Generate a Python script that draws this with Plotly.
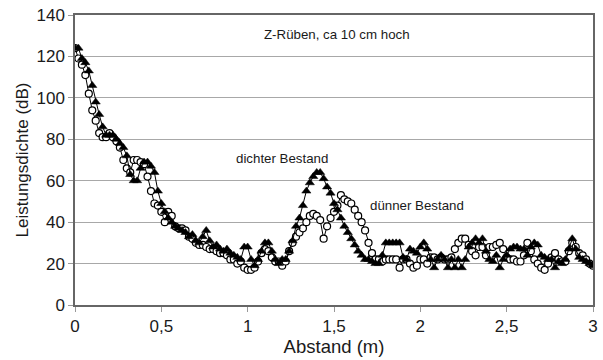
import numpy as np
import plotly.graph_objects as go

# Abstand (m), Messpunkte im Abstand von 2 cm
abstand = [round(i * 0.02, 2) for i in range(151)]

# Leistungsdichte (dB), dichter Bestand
dichter = [
    124, 124, 119, 117, 113, 106, 98, 92, 86, 82,
    82, 82, 80, 78, 76, 72, 63, 60, 60, 66,
    69, 69, 67, 64, 55, 49, 45, 42, 40, 38,
    37, 36, 35, 33, 34, 31, 30, 33, 36, 31,
    28, 29, 27, 26, 27, 25, 24, 23, 22, 28,
    28, 22, 19, 22, 26, 30, 30, 26, 22, 20,
    22, 22, 26, 31, 38, 42, 48, 55, 59, 62,
    64, 64, 61, 57, 54, 49, 46, 42, 38, 35,
    32, 29, 26, 24, 22, 22, 21, 20, 20, 24,
    30, 30, 30, 30, 30, 23, 22, 27, 26, 25,
    28, 30, 27, 22, 18, 22, 24, 22, 18, 22,
    18, 22, 18, 22, 28, 30, 32, 30, 32, 26,
    22, 21, 24, 18, 22, 24, 27, 28, 28, 27,
    27, 24, 28, 30, 29, 24, 23, 22, 22, 18,
    21, 20, 22, 27, 32, 27, 23, 22, 21, 20,
    19,
]

# Leistungsdichte (dB), dünner Bestand
duenner = [
    124, 119, 116, 111, 102, 94, 89, 83, 81, 81,
    83, 81, 79, 76, 70, 66, 64, 70, 70, 69,
    68, 62, 55, 49, 48, 45, 40, 45, 43, 38,
    37, 37, 36, 33, 32, 30, 29, 29, 28, 27,
    27, 26, 25, 25, 24, 22, 22, 20, 21, 18,
    17, 17, 18, 21, 25, 27, 26, 23, 21, 21,
    19, 21, 26, 30, 33, 35, 37, 40, 43, 44,
    43, 41, 32, 38, 42, 45, 48, 53, 51, 50,
    49, 46, 43, 40, 36, 30, 25, 22, 22, 21,
    22, 22, 22, 22, 18, 22, 22, 20, 18, 19,
    22, 22, 20, 23, 23, 22, 23, 22, 22, 23,
    27, 30, 32, 32, 29, 26, 24, 28, 28, 24,
    28, 28, 29, 30, 27, 23, 22, 22, 21, 21,
    24, 30, 26, 22, 20, 18, 17, 20, 23, 25,
    22, 21, 21, 26, 30, 28, 25, 24, 22, 20,
    19,
]

x_ticks = [0, 0.5, 1, 1.5, 2, 2.5, 3]
y_ticks = [0, 20, 40, 60, 80, 100, 120, 140]

font_family = "Liberation Sans, Arial, sans-serif"
text_col = "#1a1a1a"
note_size = 13.3

fig = go.Figure()

fig.add_trace(go.Scatter(
    x=abstand, y=duenner, mode="lines+markers", name="dünner Bestand",
    line=dict(color="black", width=1),
    marker=dict(symbol="circle", size=7, color="white",
                line=dict(color="black", width=1.2)),
))

fig.add_trace(go.Scatter(
    x=abstand, y=dichter, mode="lines+markers", name="dichter Bestand",
    line=dict(color="black", width=1),
    marker=dict(symbol="triangle-up", size=8, color="black",
                line=dict(color="black", width=0.5)),
))

fig.update_layout(
    width=603, height=360,
    margin=dict(l=75, r=5, t=15, b=55),
    paper_bgcolor="white", plot_bgcolor="white",
    showlegend=False,
    separators=",.",
    font=dict(family=font_family, color=text_col, size=17),
)

fig.update_xaxes(
    range=[0, 3], tickvals=x_ticks,
    showgrid=False, zeroline=False,
    showline=True, linecolor="#666666", linewidth=1.5, mirror=True,
    ticks="outside", ticklen=5, tickcolor="#999999",
    tickfont=dict(size=17),
    title=dict(text="Abstand (m)", font=dict(size=18.5), standoff=3),
)

fig.update_yaxes(
    range=[0, 140], tickvals=y_ticks,
    showgrid=True, gridcolor="#a8a8a8", gridwidth=1,
    zeroline=False,
    showline=True, linecolor="#666666", linewidth=1.5, mirror=True,
    ticks="outside", ticklen=5, tickcolor="#999999",
    tickfont=dict(size=17),
    title=dict(text="Leistungsdichte (dB)", font=dict(size=17), standoff=4),
)

fig.add_annotation(x=1.52, y=130.4, text="Z-Rüben, ca 10 cm hoch",
                   showarrow=False, font=dict(size=note_size, color=text_col))
fig.add_annotation(x=1.2, y=70.5, text="dichter Bestand",
                   showarrow=False, font=dict(size=note_size, color=text_col))
fig.add_annotation(x=1.98, y=47.8, text="dünner Bestand",
                   showarrow=False, font=dict(size=note_size, color=text_col))

fig.write_html("out.html")
